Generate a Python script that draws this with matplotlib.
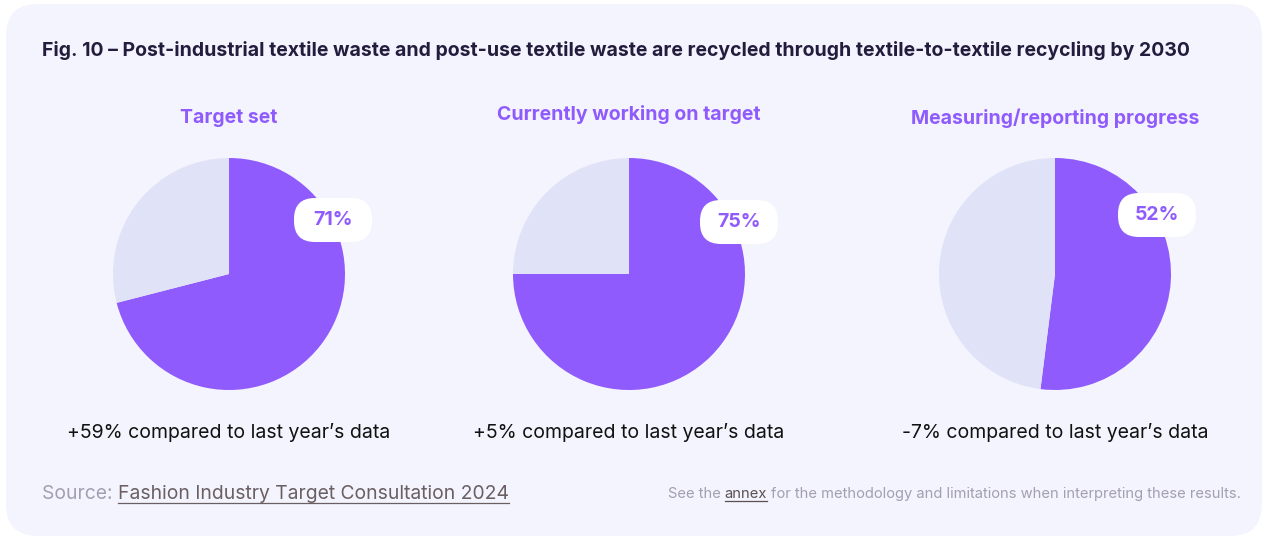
import matplotlib
matplotlib.use("Agg")
import matplotlib.pyplot as plt
from matplotlib.patches import FancyBboxPatch

# data
titles = ["Target set", "Currently working on target", "Measuring/reporting progress"]
shares = [71, 75, 52]
changes = ["+59% compared to last year\u2019s data",
           "+5% compared to last year\u2019s data",
           "-7% compared to last year\u2019s data"]

purple = "#8f5bfd"
light = "#e0e3f8"
bg = "#f4f4fe"
W, H = 1268, 540

plt.rcParams["font.family"] = ["Inter", "DejaVu Sans"]

fig = plt.figure(figsize=(W / 100, H / 100), dpi=100)
fig.patch.set_facecolor("white")

# background card, pixel coordinates (y from top)
back = fig.add_axes([0, 0, 1, 1], zorder=-1)
back.set_xlim(0, W)
back.set_ylim(H, 0)
back.axis("off")
back.add_patch(FancyBboxPatch((6, 4), 1256, 532, boxstyle="round,pad=0,rounding_size=32",
                              facecolor=bg, edgecolor="none"))

centers = [229, 629, 1055]
title_y = [118, 115, 118]
pill_pos = [(333, 220), (739, 222), (1157, 215)]
R = 116

for i in range(3):
    cx = centers[i]
    ax = fig.add_axes([(cx - R) / W, (H - 274 - R) / H, 2 * R / W, 2 * R / H], zorder=1)
    ax.pie([shares[i], 100 - shares[i]], colors=[purple, light], startangle=90,
           counterclock=False, radius=1, wedgeprops=dict(linewidth=0))
    ax.set_xlim(-1, 1)
    ax.set_ylim(-1, 1)
    ax.set_aspect("equal")
    ax.axis("off")

# overlay for text and labels
top = fig.add_axes([0, 0, 1, 1], zorder=5)
top.set_xlim(0, W)
top.set_ylim(H, 0)
top.axis("off")
top.patch.set_alpha(0)

top.text(42, 50,
         "Fig. 10 \u2013 Post-industrial textile waste and post-use textile waste are recycled through textile-to-textile recycling by 2030",
         fontsize=14, fontweight="bold", color="#231c3d", va="center", ha="left")

for i in range(3):
    cx = centers[i]
    top.text(cx, title_y[i], titles[i], fontsize=14, fontweight="bold",
             color=purple, ha="center", va="center")
    px, py = pill_pos[i]
    top.add_patch(FancyBboxPatch((px - 39, py - 22), 78, 44,
                                 boxstyle="round,pad=0,rounding_size=21",
                                 facecolor="white", edgecolor="none"))
    top.text(px, py, f"{shares[i]}%", fontsize=14, fontweight="bold",
             color=purple, ha="center", va="center")
    top.text(cx, 432, changes[i], fontsize=14, color="#111111",
             ha="center", va="center")

fig.canvas.draw()
r = fig.canvas.get_renderer()

def width_px(t):
    return t.get_window_extent(r).width

s1 = top.text(42, 494, "Source: ", fontsize=13.9, color="#a39eb2", ha="left", va="center")
fig.canvas.draw()
x2 = 42 + width_px(s1)
s2 = top.text(x2, 494, "Fashion Industry Target Consultation 2024",
              fontsize=13.9, color="#6a5f62", ha="left", va="center")

n3 = top.text(1241, 494,
              "for the methodology and limitations when interpreting these results.",
              fontsize=10.6, color="#a39eb2", ha="right", va="center")
fig.canvas.draw()
xa = 1241 - width_px(n3) - 4
n2 = top.text(xa, 494, "annex", fontsize=10.6, color="#5a4f52", ha="right", va="center")
fig.canvas.draw()
xs = xa - width_px(n2) - 4
top.text(xs, 494, "See the", fontsize=10.6, color="#a39eb2", ha="right", va="center")
fig.canvas.draw()

# underlines for the links
for t, c, off in [(s2, "#6a5f62", 9), (n2, "#5a4f52", 7)]:
    wpx = width_px(t)
    if t.get_ha() == "left":
        xl = t.get_position()[0]
    else:
        xl = t.get_position()[0] - wpx
    top.plot([xl, xl + wpx], [494 + off, 494 + off], color=c, linewidth=0.9)

fig.savefig("out.png", dpi=100, facecolor="white")
